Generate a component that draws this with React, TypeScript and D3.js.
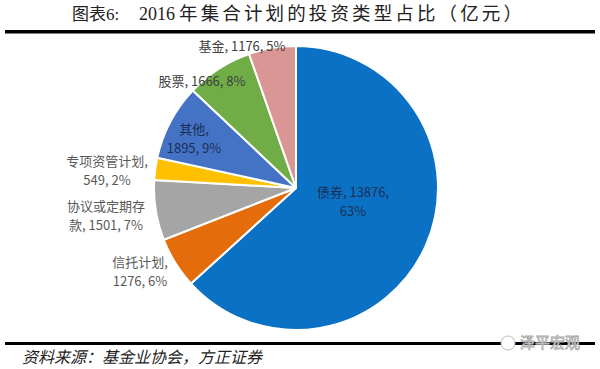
import React from "react";
import * as d3 from "d3";

const categories = ["债券", "信托计划", "协议或定期存款", "专项资管计划", "其他", "股票", "基金"];
const values = [13876, 1276, 1501, 549, 1895, 1666, 1176];
const percents = ["63%", "6%", "7%", "2%", "9%", "8%", "5%"];
const colors = ["#0B71C4", "#E46C0A", "#A5A5A5", "#FFC000", "#4472C4", "#70AD47", "#DA9694"];

// label layout: text lines and offsets relative to pie centre
const labelLines = [
  ["债券, 13876,", "63%"],
  ["信托计划,", "1276, 6%"],
  ["协议或定期存", "款, 1501, 7%"],
  ["专项资管计划,", "549, 2%"],
  ["其他,", "1895, 9%"],
  ["股票, 1666, 8%"],
  ["基金, 1176, 5%"],
];
const labelOffsets = [
  [57, 3],
  [-156, 73],
  [-190, 17],
  [-189, -28],
  [-102, -60],
  [-94, -108],
  [-54, -143],
];
const labelColors = ["#1B2F55", "#595959", "#595959", "#595959", "#1B2F55", "#404040", "#404040"];

const W = 600;
const H = 369;
const cx = 296;
const cy = 188;
const R = 142;

export default function App() {
  const pie = d3.pie<number>().sort(null).value((d) => d)(values);
  const arc = d3.arc<d3.PieArcDatum<number>>().innerRadius(0).outerRadius(R);
  const cjk = "'Noto Sans CJK SC', 'Noto Sans', sans-serif";
  const serif = "'Liberation Serif', 'Noto Sans CJK SC', serif";
  return (
    <svg width={W} height={H} style={{ position: "absolute", left: 0, top: 0, background: "#fff" }}>
      <text x={72} y={20} fontFamily={serif} fontSize={17} fill="#222">
        图表6:
      </text>
      <text x={139} y={20} fontFamily={serif} fontSize={18} fill="#222">
        2016
      </text>
      <text
        x={179}
        y={20}
        fontFamily={serif}
        fontSize={18.5}
        fill="#222"
        textLength={343}
        lengthAdjust="spacing"
      >
        年集合计划的投资类型占比（亿元）
      </text>
      <rect x={5} y={30} width={590} height={3.5} fill="#000" />
      <g transform={`translate(${cx},${cy})`}>
        {pie.map((p, i) => (
          <path key={categories[i]} d={arc(p) || ""} fill={colors[i]} stroke="#fff" strokeWidth={2} strokeLinejoin="round" />
        ))}
        {labelLines.map((lines, i) => (
          <text
            key={"l" + i}
            textAnchor="middle"
            fontFamily={cjk}
            fontSize={13}
            fill={labelColors[i]}
          >
            {lines.map((ln, j) => (
              <tspan key={j} x={labelOffsets[i][0]} y={labelOffsets[i][1] + j * 19} dominantBaseline="central">
                {ln}
              </tspan>
            ))}
          </text>
        ))}
      </g>
      <rect x={5} y={342} width={590} height={3} fill="#000" />
      <text x={22} y={363} fontFamily={cjk} fontStyle="italic" fontSize={16} fill="#222">
        资料来源：基金业协会，方正证券
      </text>
      <g>
        <circle cx={508} cy={343} r={7} fill="#fff" stroke="#bbb" strokeWidth={1} />
        <text x={520} y={348} fontFamily={cjk} fontSize={15} fill="#fff" stroke="#aaa" strokeWidth={0.8}>
          泽平宏观
        </text>
      </g>
    </svg>
  );
}
